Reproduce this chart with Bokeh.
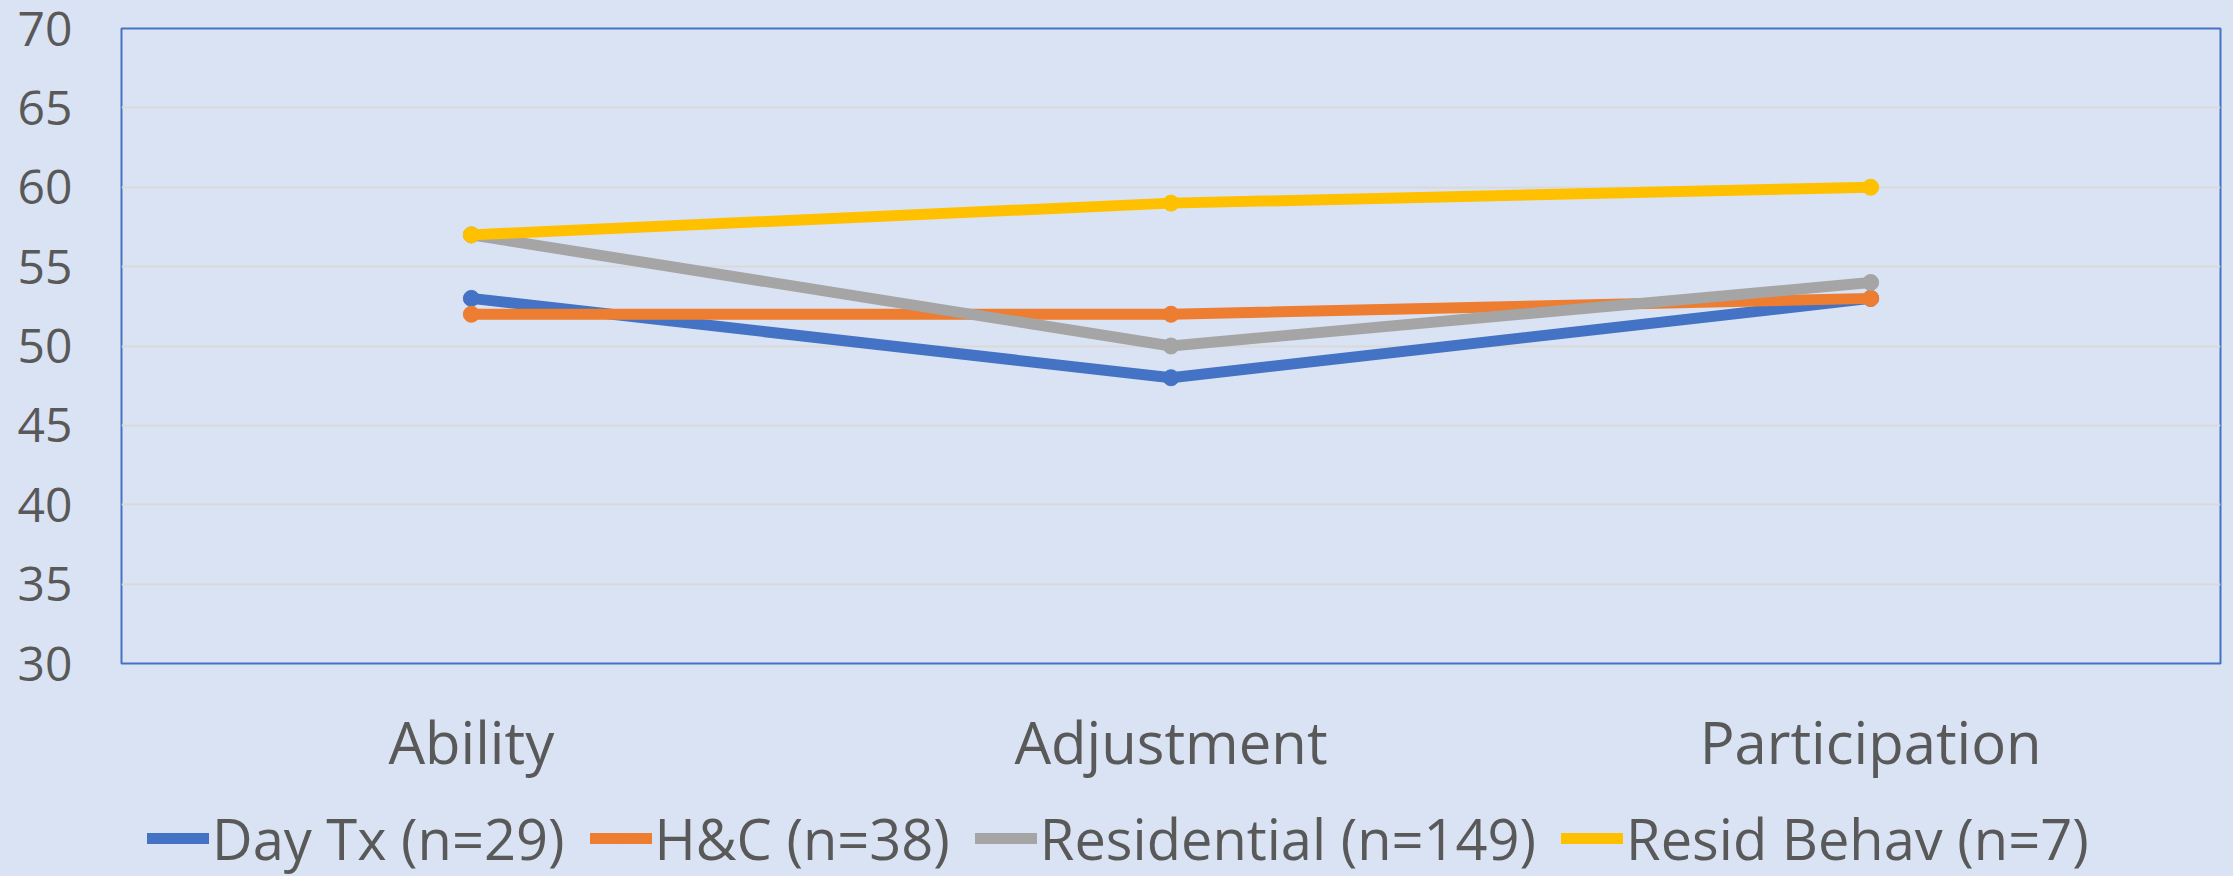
from bokeh.plotting import figure
from bokeh.models import ColumnDataSource, Legend, LegendItem, FixedTicker, Range1d
from bokeh.layouts import column
from bokeh.embed import file_html
from bokeh.resources import INLINE

categories = ["Ability", "Adjustment", "Participation"]
series_names = ["Day Tx (n=29)", "H&C (n=38)", "Residential (n=149)", "Resid Behav (n=7)"]
day_tx = [53, 48, 53]
h_c = [52, 52, 53]
residential = [57, 50, 54]
resid_behav = [57, 59, 60]
y_ticks = [30, 35, 40, 45, 50, 55, 60, 65, 70]

colors = ["#4472C4", "#ED7D31", "#A5A5A5", "#FFC000"]
BG = "#DAE3F3"
FONT = "Open Sans"
TXT = "#595959"
LW = 11
MS = 16

p = figure(width=2233, height=785, x_range=categories, y_range=Range1d(30, 70),
           output_backend="svg", toolbar_location=None,
           min_border_left=121, min_border_right=13, min_border_top=28, min_border_bottom=122,
           styles={"background-color": BG})
p.background_fill_color = BG
p.border_fill_color = BG
p.outline_line_color = "#4472C4"
p.outline_line_width = 2

p.xgrid.grid_line_color = None
p.ygrid.grid_line_color = "#D9D9D9"
p.ygrid.grid_line_width = 2
p.yaxis.ticker = FixedTicker(ticks=y_ticks)

for ax in (p.xaxis[0], p.yaxis[0]):
    ax.axis_line_color = None
    ax.major_tick_line_color = None
    ax.minor_tick_line_color = None
    ax.major_tick_out = 0
    ax.major_tick_in = 0
    ax.major_label_text_font = FONT
    ax.major_label_text_color = TXT

p.yaxis.major_label_text_font_size = "48px"
p.yaxis.major_label_standoff = 49
p.xaxis.major_label_text_font_size = "58px"
p.xaxis.major_label_standoff = 38

for vals, c in zip([day_tx, h_c, residential, resid_behav], colors):
    src = ColumnDataSource(dict(x=categories, y=vals))
    p.line("x", "y", source=src, line_color=c, line_width=LW, line_cap="round", line_join="round")
    p.scatter("x", "y", source=src, size=MS, fill_color=c, line_color=c)

# legend strip below the chart (its series renderers sit outside its visible range)
p2 = figure(width=2233, height=91, x_range=Range1d(0, 1), y_range=Range1d(0, 1),
            output_backend="svg", toolbar_location=None,
            min_border_left=0, min_border_right=0, min_border_top=0, min_border_bottom=0,
            styles={"background-color": BG})
p2.axis.visible = False
p2.grid.visible = False
p2.outline_line_color = None
p2.background_fill_alpha = 0
p2.border_fill_color = BG

items = []
for name, c in zip(series_names, colors):
    off = ColumnDataSource(dict(x=[-10, -9], y=[-10, -10]))
    r1 = p2.line("x", "y", source=off, line_color=c, line_width=LW, line_cap="round")
    r2 = p2.scatter("x", "y", source=off, size=MS, fill_color=c, line_color=c)
    items.append(LegendItem(label=name, renderers=[r1, r2], index=0))

legend = Legend(items=items, orientation="horizontal", location=(26, 0),
                label_text_font=FONT, label_text_font_size="56px", label_text_color=TXT,
                glyph_width=62, glyph_height=20, label_height=20, label_standoff=3, spacing=25,
                padding=0, margin=0, background_fill_alpha=0, border_line_color=None)
p2.add_layout(legend)

layout = column(p, p2, spacing=0, styles={"background-color": BG})
open("out.html", "w").write(file_html(layout, INLINE))
